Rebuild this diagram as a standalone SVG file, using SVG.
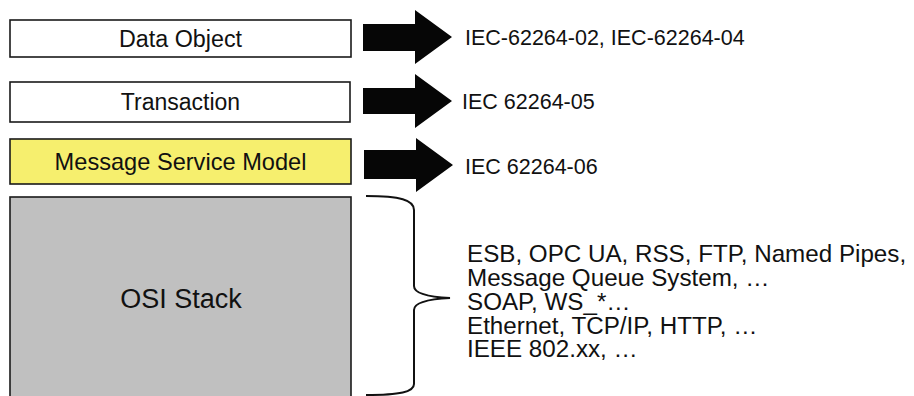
<svg xmlns="http://www.w3.org/2000/svg" width="914" height="396" viewBox="0 0 914 396">
  <style>
    .box { stroke: #1a1a1a; stroke-width: 1.6; }
    .lbl { font-family: "Liberation Sans", Arial, sans-serif; fill: #111; }
    .arrow { fill: #060606; }
  </style>
  <rect width="914" height="396" fill="#ffffff"/>
  <g id="node-data-object">
    <rect class="box" x="10" y="20" width="341" height="37" fill="#ffffff"/>
    <text class="lbl" x="180.5" y="46.5" font-size="23.3" text-anchor="middle">Data Object</text>
  </g>
  <g id="node-transaction">
    <rect class="box" x="10" y="82" width="340" height="40" fill="#ffffff"/>
    <text class="lbl" x="180.5" y="110" font-size="23" text-anchor="middle">Transaction</text>
  </g>
  <g id="node-message-service-model">
    <rect class="box" x="10" y="139" width="341" height="45" fill="#F6EF6E"/>
    <text class="lbl" x="180.5" y="169.5" font-size="23.6" text-anchor="middle">Message Service Model</text>
  </g>
  <g id="node-osi-stack">
    <rect class="box" x="10" y="197" width="341" height="210" fill="#C0C0C0"/>
    <text class="lbl" x="181" y="307.5" font-size="27" text-anchor="middle">OSI Stack</text>
  </g>
  <g id="connectors">
    <polygon class="arrow" points="363,24 415,24 415,10 452,37 415,64 415,51 363,51"/>
    <polygon class="arrow" points="363,88 415,88 415,74 452,101 415,128 415,114 363,114"/>
    <polygon class="arrow" points="364,150 416,150 416,138 453,165 416,192 416,179 364,179"/>
    <path d="M 366 196 C 400 196, 414 200, 414 210 L 414 286 C 414 294, 430 297, 450 298 C 430 299, 414 302, 414 310 L 414 384 C 414 392, 400 395, 366 395" fill="none" stroke="#111" stroke-width="2"/>
  </g>
  <g id="labels">
    <text class="lbl" x="465" y="45" font-size="21.5">IEC-62264-02, IEC-62264-04</text>
    <text class="lbl" x="462" y="109" font-size="21.5">IEC 62264-05</text>
    <text class="lbl" x="465" y="174" font-size="21.5">IEC 62264-06</text>
    <text class="lbl" x="467" font-size="24.2">
      <tspan x="467" y="261.5">ESB, OPC UA, RSS, FTP, Named Pipes,</tspan>
      <tspan x="467" y="285.5">Message Queue System, …</tspan>
      <tspan x="467" y="309.5">SOAP, WS_*…</tspan>
      <tspan x="467" y="333.5">Ethernet, TCP/IP, HTTP, …</tspan>
      <tspan x="467" y="356.5">IEEE 802.xx, …</tspan>
    </text>
  </g>
</svg>
